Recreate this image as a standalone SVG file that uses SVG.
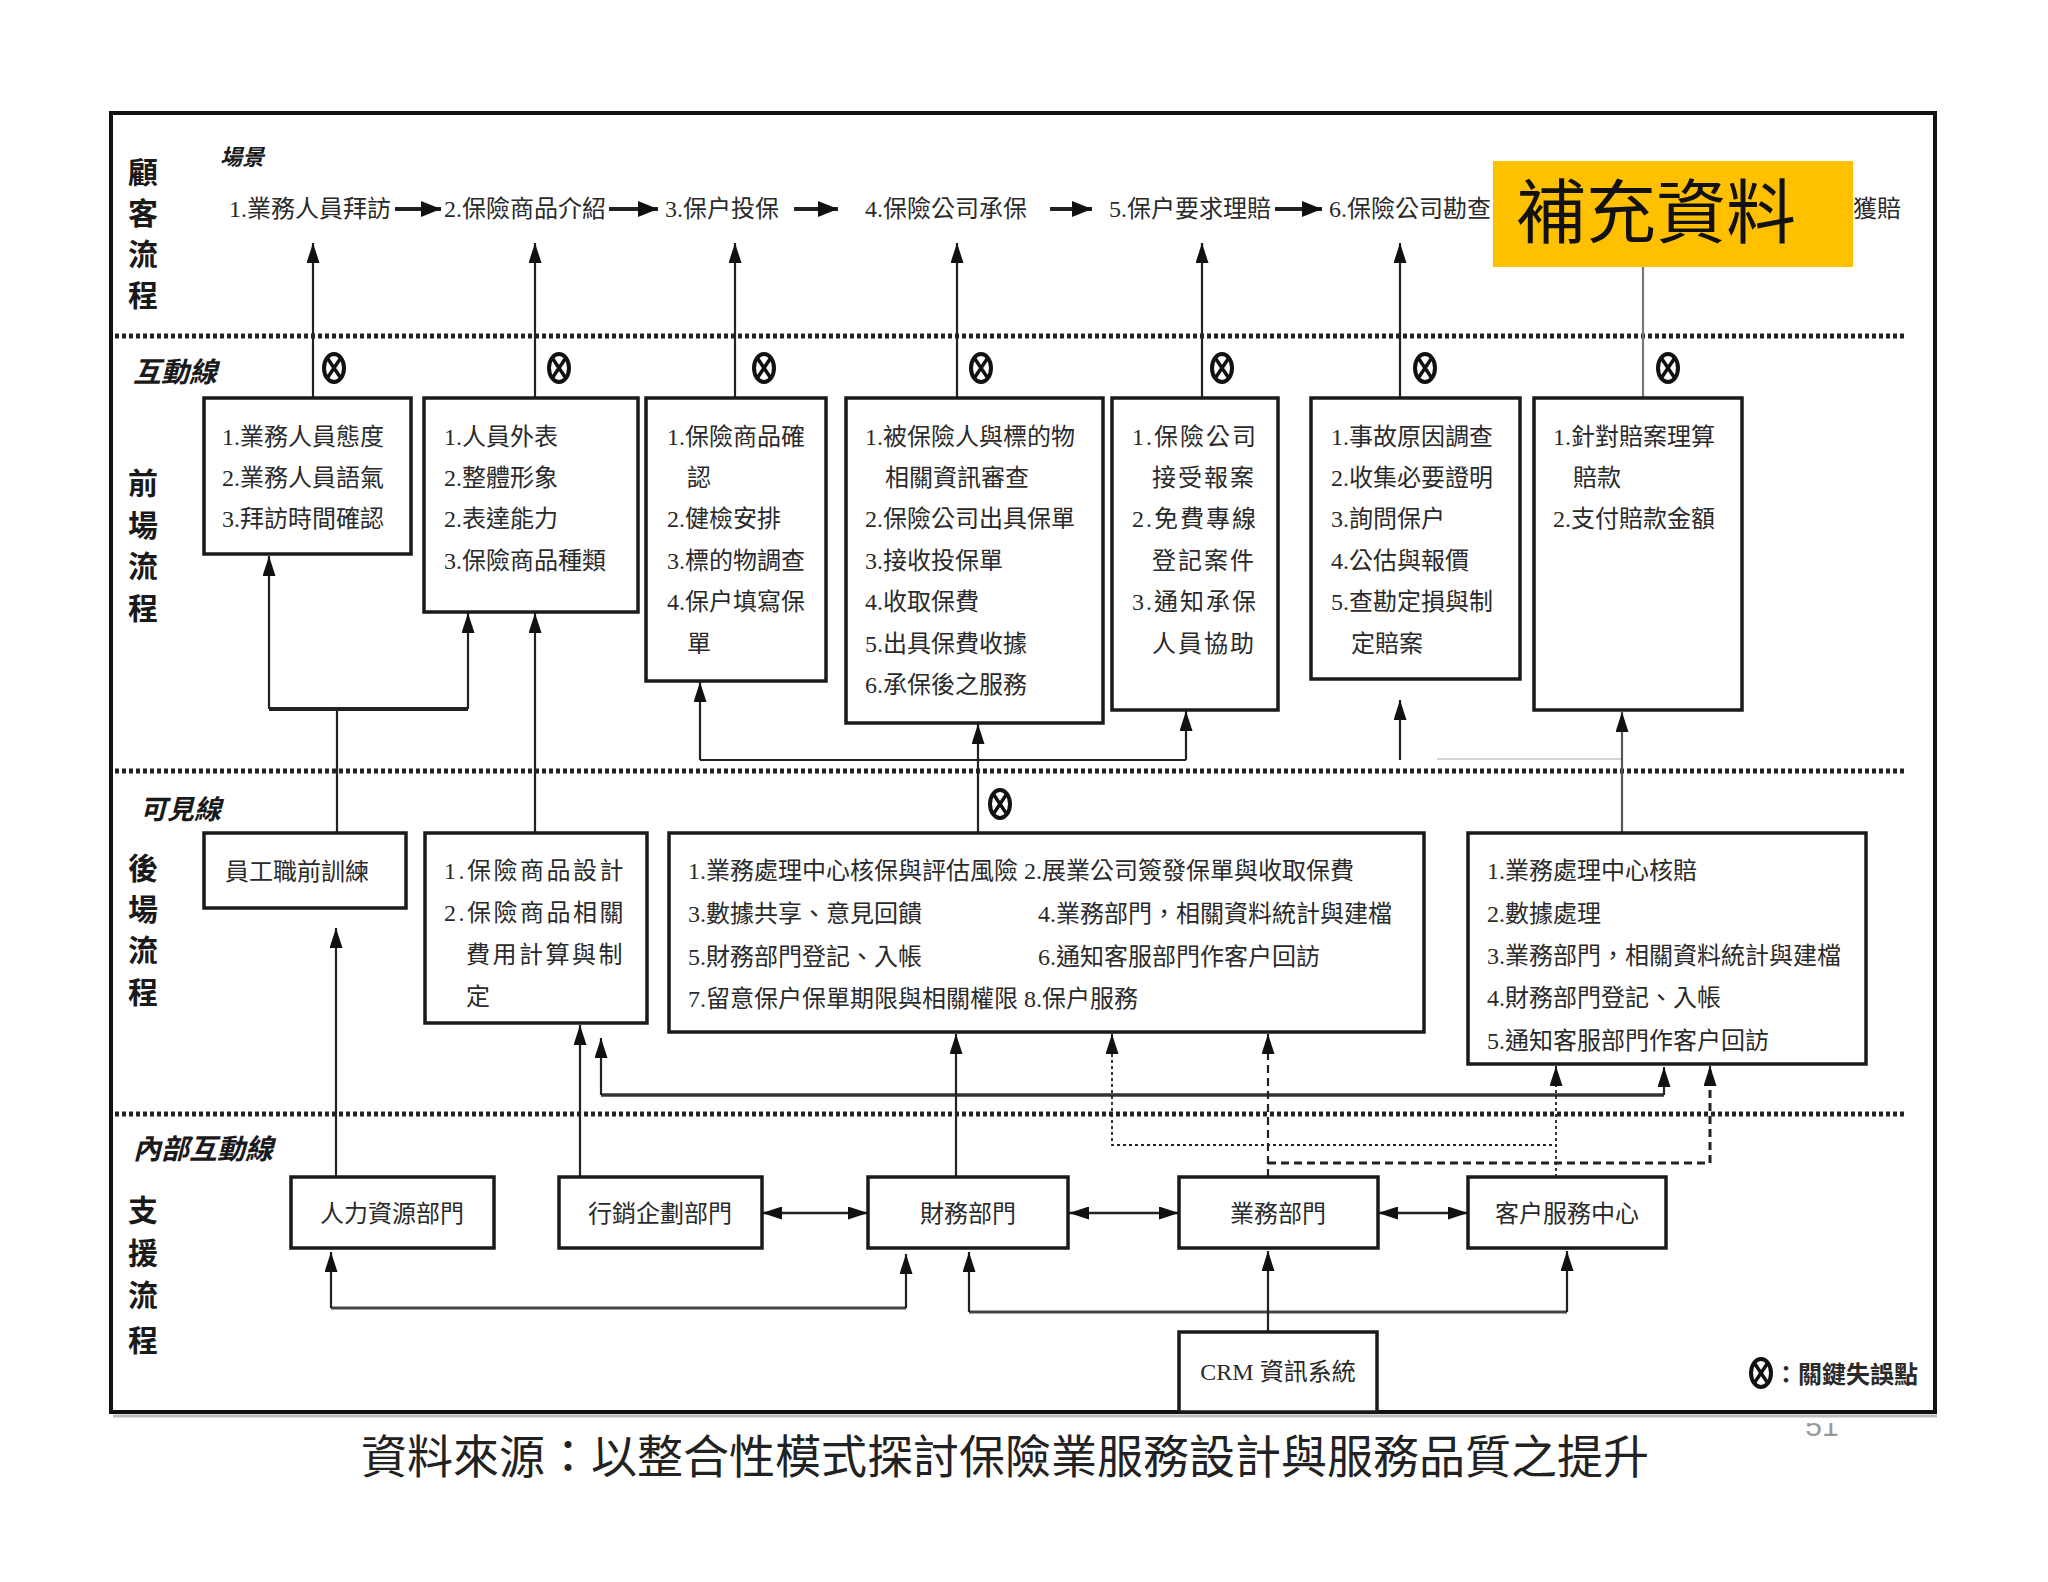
<svg xmlns="http://www.w3.org/2000/svg" width="2048" height="1582" viewBox="0 0 2048 1582">
<style>
.t{font-family:'Liberation Serif','Noto Sans CJK TC','Noto Sans CJK SC',serif;font-size:24px;fill:#2a2a2a;}
.lane{font-family:'Liberation Serif','Noto Sans CJK TC',serif;font-size:30px;font-weight:bold;fill:#1a1a1a;text-anchor:middle;}
.ital{font-family:'Liberation Serif','Noto Sans CJK TC',serif;font-weight:bold;font-style:italic;fill:#1a1a1a;}
.box{fill:#fff;stroke:#1a1a1a;stroke-width:3.5;}
.c{fill:none;stroke:#222;stroke-width:2.2;}
.ca{fill:none;stroke:#222;stroke-width:2.2;marker-end:url(#ah);}
.cb{fill:none;stroke:#222;stroke-width:4;}
.dot{fill:none;stroke:#222;stroke-width:5;stroke-dasharray:4 3;}
.mid{text-anchor:middle;}
</style>
<defs>
<marker id="ah" viewBox="0 0 10 10" refX="10" refY="5" markerWidth="20" markerHeight="13" markerUnits="userSpaceOnUse" orient="auto-start-reverse" preserveAspectRatio="none"><path d="M0,0 L10,5 L0,10 z" fill="#111"/></marker>
<marker id="ahb" viewBox="0 0 10 10" refX="10" refY="5" markerWidth="20" markerHeight="16" markerUnits="userSpaceOnUse" orient="auto-start-reverse" preserveAspectRatio="none"><path d="M0,0 L10,5 L0,10 z" fill="#111"/></marker>
<g id="kx"><ellipse cx="0" cy="0" rx="10" ry="14" fill="#fff" stroke="#111" stroke-width="4"/><path d="M-6,-9 L6,9 M6,-9 L-6,9" stroke="#111" stroke-width="3.5"/></g>
<clipPath id="pg"><rect x="1780" y="1423" width="80" height="40"/></clipPath>
</defs>
<rect x="0" y="0" width="2048" height="1582" fill="#fff"/>

<!-- frame -->
<g id="frame">
<rect x="111" y="113" width="1824" height="1299" fill="none" stroke="#111" stroke-width="4"/>
<line x1="113" y1="1416" x2="1937" y2="1416" stroke="#bbb" stroke-width="3"/>
<line class="dot" x1="115" y1="336" x2="1907" y2="336"/>
<line class="dot" x1="115" y1="771" x2="1907" y2="771"/>
<line class="dot" x1="115" y1="1114" x2="1907" y2="1114"/>
</g>

<!-- lane labels -->
<g id="lanes">
<text class="lane" x="143" y="183">顧</text><text class="lane" x="143" y="224">客</text><text class="lane" x="143" y="265">流</text><text class="lane" x="143" y="306">程</text>
<text class="lane" x="143" y="494">前</text><text class="lane" x="143" y="536">場</text><text class="lane" x="143" y="577">流</text><text class="lane" x="143" y="619">程</text>
<text class="lane" x="143" y="879">後</text><text class="lane" x="143" y="920">場</text><text class="lane" x="143" y="961">流</text><text class="lane" x="143" y="1003">程</text>
<text class="lane" x="143" y="1221">支</text><text class="lane" x="143" y="1264">援</text><text class="lane" x="143" y="1306">流</text><text class="lane" x="143" y="1351">程</text>
<text class="ital" x="220" y="165" font-size="22">場景</text>
<text class="ital" x="133" y="382" font-size="28">互動線</text>
<text class="ital" x="140" y="819" font-size="27">可見線</text>
<text class="ital" x="133" y="1159" font-size="28">內部互動線</text>
</g>

<!-- customer flow -->
<g id="customer-flow">
<text class="t" x="229" y="217">1.業務人員拜訪</text>
<text class="t" x="444" y="217">2.保險商品介紹</text>
<text class="t" x="665" y="217">3.保户投保</text>
<text class="t" x="865" y="217">4.保險公司承保</text>
<text class="t" x="1109" y="217">5.保户要求理賠</text>
<text class="t" x="1329" y="217">6.保險公司勘查</text>
<text class="t" x="1853" y="217">獲賠</text>
</g>

<!-- connectors -->
<g id="connectors">
<!-- top row arrows -->
<line class="cb" x1="395" y1="209" x2="441" y2="209" marker-end="url(#ahb)"/>
<line class="cb" x1="609" y1="209" x2="658" y2="209" marker-end="url(#ahb)"/>
<line class="cb" x1="794" y1="209" x2="838" y2="209" marker-end="url(#ahb)"/>
<line class="cb" x1="1050" y1="209" x2="1092" y2="209" marker-end="url(#ahb)"/>
<line class="cb" x1="1275" y1="209" x2="1322" y2="209" marker-end="url(#ahb)"/>
<!-- front boxes to scenes -->
<line class="ca" x1="313" y1="398" x2="313" y2="243"/>
<line class="ca" x1="535" y1="398" x2="535" y2="243"/>
<line class="ca" x1="735" y1="398" x2="735" y2="243"/>
<line class="ca" x1="957" y1="398" x2="957" y2="243"/>
<line class="ca" x1="1202" y1="398" x2="1202" y2="243"/>
<line class="ca" x1="1400" y1="398" x2="1400" y2="243"/>
<line class="c" x1="1643" y1="398" x2="1643" y2="266" style="stroke:#777"/>
<!-- staff training to boxes 1,2 -->
<polyline class="c" points="337,833 337,709"/>
<line class="cb" x1="269" y1="709" x2="468" y2="709"/>
<line class="ca" x1="269" y1="709" x2="269" y2="556"/>
<line class="ca" x1="468" y1="709" x2="468" y2="613"/>
<line class="ca" x1="535" y1="833" x2="535" y2="613"/>
<!-- big back box to boxes 3,4,5 -->
<line class="c" x1="700" y1="760" x2="1186" y2="760"/>
<line class="ca" x1="700" y1="760" x2="700" y2="682"/>
<line class="ca" x1="978" y1="833" x2="978" y2="724"/>
<line class="ca" x1="1186" y1="760" x2="1186" y2="711"/>
<!-- right back box to boxes 6,7 -->
<line class="c" x1="1437" y1="759" x2="1622" y2="759" style="stroke:#c4c4c4;stroke-width:1.5"/>
<line class="ca" x1="1400" y1="760" x2="1400" y2="700"/>
<line class="ca" x1="1622" y1="833" x2="1622" y2="712" style="stroke:#555"/>
<!-- support to back -->
<line class="ca" x1="336" y1="1177" x2="336" y2="928"/>
<line class="ca" x1="580" y1="1177" x2="580" y2="1025"/>
<polyline class="c" points="601,1095 1664,1095" style="stroke:#333;stroke-width:3.5"/>
<line class="ca" x1="601" y1="1095" x2="601" y2="1038"/>
<line class="ca" x1="1664" y1="1095" x2="1664" y2="1067"/>
<line class="ca" x1="956" y1="1177" x2="956" y2="1034"/>
<!-- dotted from customer service -->
<polyline points="1112,1036 1112,1145 1556,1145" fill="none" stroke="#222" stroke-width="1.8" stroke-dasharray="3 3"/>
<line x1="1112" y1="1052" x2="1112" y2="1034" stroke="#222" stroke-width="2" marker-end="url(#ah)"/>
<line x1="1556" y1="1177" x2="1556" y2="1066" stroke="#222" stroke-width="1.8" stroke-dasharray="3 3"/>
<line x1="1556" y1="1085" x2="1556" y2="1066" stroke="#222" stroke-width="2" marker-end="url(#ah)"/>
<!-- dashed from business dept -->
<line x1="1268" y1="1177" x2="1268" y2="1040" stroke="#222" stroke-width="2.2" stroke-dasharray="8 5"/>
<line x1="1268" y1="1052" x2="1268" y2="1034" stroke="#222" stroke-width="2.2" marker-end="url(#ah)"/>
<polyline points="1268,1163 1710,1163 1710,1070" fill="none" stroke="#222" stroke-width="3" stroke-dasharray="8 5"/>
<line x1="1710" y1="1085" x2="1710" y2="1066" stroke="#222" stroke-width="2.2" marker-end="url(#ah)"/>
<!-- support row double arrows -->
<line class="c" x1="762" y1="1213" x2="868" y2="1213" style="stroke-width:2.5" marker-start="url(#ah)" marker-end="url(#ah)"/>
<line class="c" x1="1069" y1="1213" x2="1179" y2="1213" style="stroke-width:2.5" marker-start="url(#ah)" marker-end="url(#ah)"/>
<line class="c" x1="1378" y1="1213" x2="1468" y2="1213" style="stroke-width:2.5" marker-start="url(#ah)" marker-end="url(#ah)"/>
<!-- bottom loops -->
<line class="c" x1="331" y1="1308" x2="906" y2="1308" style="stroke:#444;stroke-width:3"/>
<line class="ca" x1="331" y1="1308" x2="331" y2="1252"/>
<line class="ca" x1="906" y1="1308" x2="906" y2="1254"/>
<line class="c" x1="969" y1="1312" x2="1567" y2="1312" style="stroke:#444;stroke-width:3"/>
<line class="ca" x1="969" y1="1312" x2="969" y2="1252"/>
<line class="ca" x1="1567" y1="1312" x2="1567" y2="1251"/>
<line class="ca" x1="1268" y1="1332" x2="1268" y2="1251"/>
</g>

<!-- critical failure markers -->
<g id="markers">
<use href="#kx" x="334" y="368"/>
<use href="#kx" x="559" y="368"/>
<use href="#kx" x="764" y="368"/>
<use href="#kx" x="981" y="368"/>
<use href="#kx" x="1222" y="368"/>
<use href="#kx" x="1425" y="368"/>
<use href="#kx" x="1668" y="368"/>
<use href="#kx" x="1000" y="804"/>
</g>

<!-- front stage boxes -->
<g id="front-1"><rect class="box" x="204" y="398" width="207" height="156"/>
<text class="t" x="222" y="445">1.業務人員態度</text><text class="t" x="222" y="486">2.業務人員語氣</text><text class="t" x="222" y="527">3.拜訪時間確認</text></g>
<g id="front-2"><rect class="box" x="424" y="398" width="214" height="214"/>
<text class="t" x="444" y="445">1.人員外表</text><text class="t" x="444" y="486">2.整體形象</text><text class="t" x="444" y="527">2.表達能力</text><text class="t" x="444" y="569">3.保險商品種類</text></g>
<g id="front-3"><rect class="box" x="646" y="398" width="180" height="283"/>
<text class="t" x="667" y="445">1.保險商品確</text><text class="t" x="687" y="486">認</text><text class="t" x="667" y="527">2.健檢安排</text><text class="t" x="667" y="569">3.標的物調查</text><text class="t" x="667" y="610">4.保户填寫保</text><text class="t" x="687" y="652">單</text></g>
<g id="front-4"><rect class="box" x="846" y="398" width="257" height="325"/>
<text class="t" x="865" y="445">1.被保險人與標的物</text><text class="t" x="885" y="486">相關資訊審查</text><text class="t" x="865" y="527">2.保險公司出具保單</text><text class="t" x="865" y="569">3.接收投保單</text><text class="t" x="865" y="610">4.收取保費</text><text class="t" x="865" y="652">5.出具保費收據</text><text class="t" x="865" y="693">6.承保後之服務</text></g>
<g id="front-5"><rect class="box" x="1112" y="398" width="166" height="312"/>
<g letter-spacing="2"><text class="t" x="1132" y="445">1.保險公司</text><text class="t" x="1152" y="486">接受報案</text><text class="t" x="1132" y="527">2.免費專線</text><text class="t" x="1152" y="569">登記案件</text><text class="t" x="1132" y="610">3.通知承保</text><text class="t" x="1152" y="652">人員協助</text></g></g>
<g id="front-6"><rect class="box" x="1311" y="398" width="209" height="281"/>
<text class="t" x="1331" y="445">1.事故原因調查</text><text class="t" x="1331" y="486">2.收集必要證明</text><text class="t" x="1331" y="527">3.詢問保户</text><text class="t" x="1331" y="569">4.公估與報價</text><text class="t" x="1331" y="610">5.查勘定損與制</text><text class="t" x="1351" y="652">定賠案</text></g>
<g id="front-7"><rect class="box" x="1534" y="398" width="208" height="312"/>
<text class="t" x="1553" y="445">1.針對賠案理算</text><text class="t" x="1573" y="486">賠款</text><text class="t" x="1553" y="527">2.支付賠款金額</text></g>

<!-- back stage boxes -->
<g id="back-1"><rect class="box" x="204" y="833" width="202" height="75"/>
<text class="t" x="225" y="880">員工職前訓練</text></g>
<g id="back-2"><rect class="box" x="425" y="833" width="222" height="190"/>
<g letter-spacing="2.5"><text class="t" x="444" y="879">1.保險商品設計</text><text class="t" x="444" y="921">2.保險商品相關</text><text class="t" x="466" y="963">費用計算與制</text><text class="t" x="466" y="1005">定</text></g></g>
<g id="back-3"><rect class="box" x="669" y="833" width="755" height="199"/>
<text class="t" x="688" y="879">1.業務處理中心核保與評估風險 2.展業公司簽發保單與收取保費</text>
<text class="t" x="688" y="922">3.數據共享、意見回饋</text><text class="t" x="1038" y="922">4.業務部門，相關資料統計與建檔</text>
<text class="t" x="688" y="965">5.財務部門登記、入帳</text><text class="t" x="1038" y="965">6.通知客服部門作客户回訪</text>
<text class="t" x="688" y="1007">7.留意保户保單期限與相關權限 8.保户服務</text></g>
<g id="back-4"><rect class="box" x="1468" y="833" width="398" height="231"/>
<text class="t" x="1487" y="879">1.業務處理中心核賠</text><text class="t" x="1487" y="922">2.數據處理</text><text class="t" x="1487" y="964">3.業務部門，相關資料統計與建檔</text><text class="t" x="1487" y="1006">4.財務部門登記、入帳</text><text class="t" x="1487" y="1049">5.通知客服部門作客户回訪</text></g>

<!-- support boxes -->
<g id="hr"><rect class="box" x="291" y="1177" width="203" height="71"/><text class="t mid" x="392" y="1222">人力資源部門</text></g>
<g id="marketing"><rect class="box" x="559" y="1177" width="203" height="71"/><text class="t mid" x="660" y="1222">行銷企劃部門</text></g>
<g id="finance"><rect class="box" x="868" y="1177" width="200" height="71"/><text class="t mid" x="968" y="1222">財務部門</text></g>
<g id="business"><rect class="box" x="1179" y="1177" width="199" height="71"/><text class="t mid" x="1278" y="1222">業務部門</text></g>
<g id="cs"><rect class="box" x="1468" y="1177" width="198" height="71"/><text class="t mid" x="1567" y="1222">客户服務中心</text></g>
<g id="crm"><rect class="box" x="1179" y="1332" width="198" height="80"/><text class="t mid" x="1278" y="1380">CRM 資訊系統</text></g>

<!-- legend -->
<g id="legend"><use href="#kx" x="1761" y="1373"/><text class="t" x="1774" y="1383" font-weight="bold">：關鍵失誤點</text></g>

<!-- overlay note -->
<g id="note"><rect x="1493" y="161" width="360" height="106" fill="#FFC000"/>
<text x="1516" y="238" font-family="'Noto Sans CJK TC','Noto Sans CJK SC',sans-serif" font-size="70" fill="#111">補充資料</text></g>

<!-- caption -->
<text x="1005" y="1473" font-family="'Noto Sans CJK TC','Noto Sans CJK SC',sans-serif" font-size="46" fill="#222" text-anchor="middle">資料來源：以整合性模式探討保險業服務設計與服務品質之提升</text>
<text x="1822" y="1436" clip-path="url(#pg)" font-family="'Liberation Sans',sans-serif" font-size="30" fill="#999" text-anchor="middle">51</text>
</svg>
